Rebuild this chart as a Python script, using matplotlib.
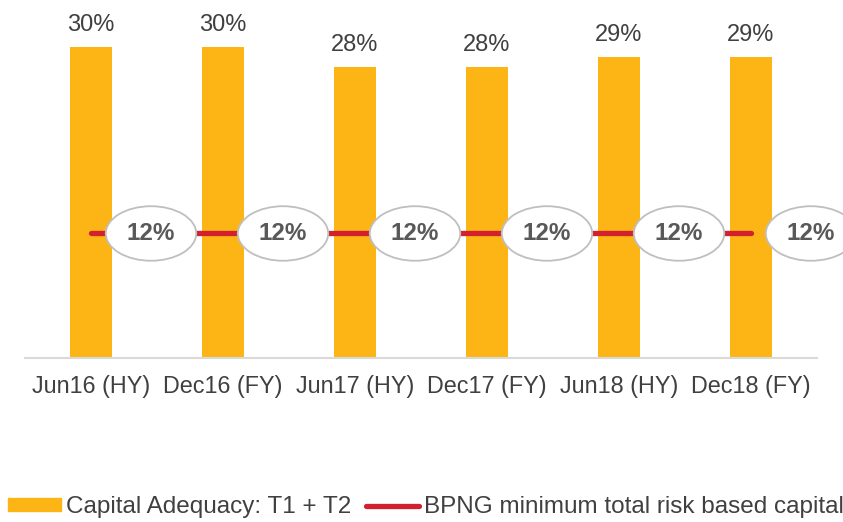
import matplotlib.pyplot as plt
from matplotlib.patches import Patch
from matplotlib.lines import Line2D

plt.rcParams["font.family"] = ["Liberation Sans", "DejaVu Sans"]

# data
periods = ["Jun16 (HY)", "Dec16 (FY)", "Jun17 (HY)", "Dec17 (FY)", "Jun18 (HY)", "Dec18 (FY)"]
capital_adequacy = [30, 30, 28, 28, 29, 29]
bpng_minimum = [12, 12, 12, 12, 12, 12]

orange = "#FDB515"
red = "#D2202F"
grey_txt = "#404040"

fig = plt.figure(figsize=(8.43, 5.22), dpi=100)
ax = fig.add_axes([25 / 843, 1 - 358 / 522, 792 / 843, 358 / 522])

x = list(range(len(periods)))
ax.bar(x, capital_adequacy, width=0.32, color=orange, zorder=2)
ax.plot(x, bpng_minimum, color=red, lw=3.8, solid_capstyle="round", zorder=3)

for xi, v in zip(x, capital_adequacy):
    ax.annotate(f"{v}%", (xi, v), xytext=(0, 11), textcoords="offset pixels",
                ha="center", va="bottom", fontsize=17, color=grey_txt)

for xi, v in zip(x, bpng_minimum):
    ax.annotate(f"{v}%", (xi, v), xytext=(60, 0), textcoords="offset pixels",
                ha="center", va="center", fontsize=17.5, fontweight="bold", color="#595959",
                bbox=dict(boxstyle="ellipse,pad=0.32", fc="white", ec="#BFBFBF", lw=1.3),
                zorder=4, annotation_clip=False)

ax.set_xlim(-0.5, len(periods) - 0.5)
ax.set_ylim(0, 34.5)
ax.set_xticks(x)
ax.set_xticklabels(periods, fontsize=16.8, color=grey_txt)
ax.tick_params(axis="x", length=0, pad=12)
ax.set_yticks([])
for s in ["top", "right", "left"]:
    ax.spines[s].set_visible(False)
ax.spines["bottom"].set_color("#D9D9D9")
ax.spines["bottom"].set_linewidth(1.5)

handles = [Patch(color=orange), Line2D([], [], color=red, lw=3.8, solid_capstyle="round")]
labels = ["Capital Adequacy: T1 + T2", "BPNG minimum total risk based capital"]
fig.legend(handles, labels, loc="lower center", bbox_to_anchor=(0.505, -0.035), ncol=2,
           frameon=False, fontsize=17.5, handlelength=2.2, handleheight=0.45,
           handletextpad=0.2, columnspacing=0.6, labelcolor=grey_txt)

fig.savefig("out.png", dpi=100)
